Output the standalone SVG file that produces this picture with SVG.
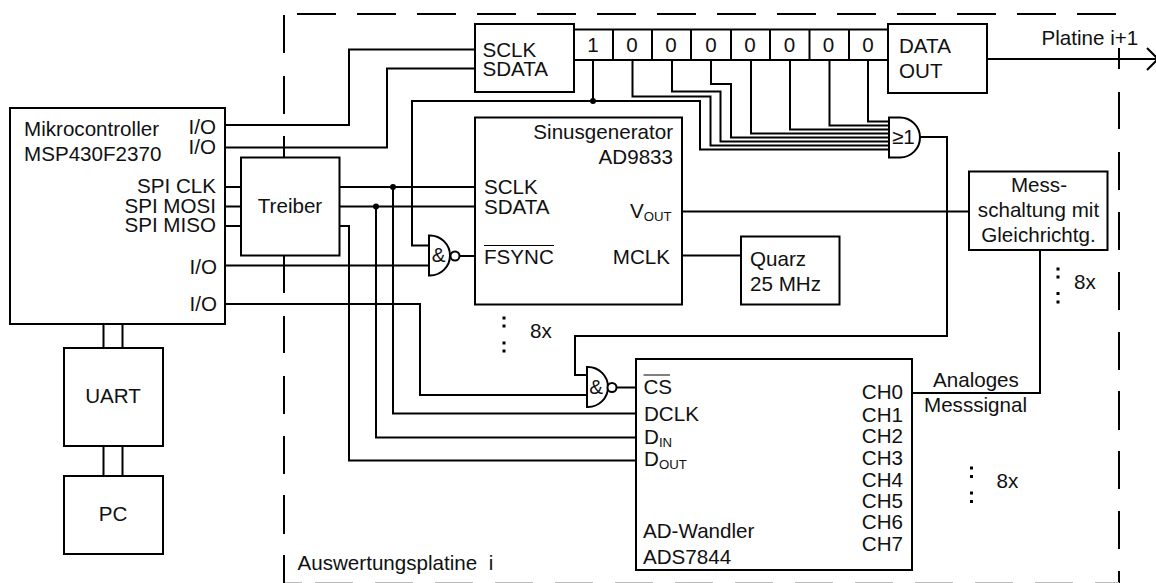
<svg xmlns="http://www.w3.org/2000/svg" width="1156" height="583" viewBox="0 0 1156 583">
<style>
text{font-family:"Liberation Sans",Arial,sans-serif;font-size:20.6px;fill:#111;white-space:pre}
.m{text-anchor:middle}.e{text-anchor:end}
.sub{font-size:13.2px}
.b{fill:#fff;stroke:#000;stroke-width:2}
.w{fill:none;stroke:#000;stroke-width:2}
.o{fill:none;stroke:#000;stroke-width:1}
.dash{fill:none;stroke:#000;stroke-width:2}
.dot{fill:#000;stroke:none}
</style>
<rect width="1156" height="583" fill="#fff"/>
<g id="board-frame">
<path class="dash" d="M297 14H336M357 14H396M417 14H456M477 14H516M537 14H576M597 14H636M657 14H696M717 14H756M777 14H816M837 14H876M897 14H936M957 14H996M1017 14H1056M1077 14H1116"/>
<path class="dash" d="M284 15V53M284 76V114M284 136V175M284 196V235M284 256V293M284 316V353M284 376V414M284 436V474M284 495V534M284 555V583"/>
<path class="dash" d="M1119 48V69M1119 92V129M1119 152V190M1119 212V250M1119 272V310M1119 332V370M1119 391V430M1119 451V489M1119 511V549M1119 571V583"/>
<path d="M285 582.500H302M315 582.500H353M375 582.500H413M435 582.500H473M495 582.500H533M555 582.500H593M615 582.500H653M675 582.500H713M735 582.500H773M795 582.500H833M855 582.500H893M915 582.500H953M975 582.500H1013M1035 582.500H1073M1095 582.500H1119" stroke="#bbb" stroke-width="1" fill="none"/>
</g>
<g id="connectors">
<path class="w" d="M225 125H349V49.500H475"/>
<path class="w" d="M225 147.500H387V68.500H475"/>
<path class="w" d="M225 187H241M225 206.500H241M225 226H241"/>
<path class="w" d="M339 187H475M339 206.500H475"/>
<path class="w" d="M393 187V413.500H636"/>
<path class="w" d="M376 206.500V437.500H636"/>
<path class="w" d="M339 226H349V460.500H636"/>
<path class="w" d="M225 265.500H429"/>
<path class="w" d="M225 304H420V395H587"/>
<path class="w" d="M593 60V101"/>
<path class="w" d="M429 245.500H412V101H700V149.500H889"/>
<path class="w" d="M632.500 60V96.500H710.500V145.500H889"/>
<path class="w" d="M672 60V91.500H720.500V141.500H889"/>
<path class="w" d="M711 60V84H731V137.500H889"/>
<path class="w" d="M751 60V133.500H889"/>
<path class="w" d="M790 60V129.500H889"/>
<path class="w" d="M829.500 60V125.500H889"/>
<path class="w" d="M868 60V121.500H889"/>
<path class="w" d="M920 137H947V336H575V375H587"/>
<path class="w" d="M460 256H475M617 387.500H636"/>
<path class="w" d="M682 211.500H969M682 255.500H741"/>
<path class="w" d="M1040 250V393H912"/>
<path class="w" d="M987 59H1156M1147 48L1158 59L1147 70"/>
<path class="w" d="M103.500 324V348M122.500 324V348M103.500 446V476M122.500 446V476"/>
<circle class="dot" cx="593" cy="101" r="3"/>
<circle class="dot" cx="393" cy="187" r="3"/>
<circle class="dot" cx="376" cy="206.500" r="3"/>
</g>
<g id="mcu"><rect class="b" x="10" y="108" width="215" height="216"/>
<text x="24" y="135.500">Mikrocontroller</text><text x="24" y="161">MSP430F2370</text>
<text class="e" x="216" y="133.500">I/O</text><text class="e" x="216" y="153.500">I/O</text>
<text class="e" x="216" y="192.500">SPI CLK</text><text class="e" x="216" y="212.500">SPI MOSI</text><text class="e" x="216" y="232">SPI MISO</text>
<text class="e" x="217" y="273.500">I/O</text><text class="e" x="217" y="310.500">I/O</text></g>
<g id="uart"><rect class="b" x="64" y="348" width="99" height="98"/><text class="m" x="113" y="402.500">UART</text></g>
<g id="pc"><rect class="b" x="64" y="476" width="99" height="78"/><text class="m" x="113" y="521">PC</text></g>
<g id="treiber"><rect class="b" x="241" y="157.500" width="98.500" height="98"/><text class="m" x="290" y="212.500">Treiber</text></g>
<g id="shift-if"><rect class="b" x="475" y="24" width="99" height="68"/><text x="482.500" y="56.500">SCLK</text><text x="482.500" y="76">SDATA</text></g>
<g id="shift-register"><rect class="b" x="574" y="29.500" width="314" height="30.500"/>
<path class="w" d="M613 29.500V60M652 29.500V60M691 29.500V60M731 29.500V60M770 29.500V60M809.500 29.500V60M849 29.500V60"/>
<text class="m" x="593" y="51.500">1</text><text class="m" x="632" y="51.500">0</text><text class="m" x="671" y="51.500">0</text><text class="m" x="711" y="51.500">0</text><text class="m" x="750" y="51.500">0</text><text class="m" x="789.500" y="51.500">0</text><text class="m" x="828.500" y="51.500">0</text><text class="m" x="868" y="51.500">0</text></g>
<g id="data-out"><rect class="b" x="888" y="24" width="99" height="69"/><text x="899" y="53">DATA</text><text x="899" y="77.500">OUT</text></g>
<g id="platine-label"><text x="1041.500" y="45">Platine i+1</text></g>
<g id="or-gate"><path class="b" d="M889 117.500H900A20 20 0 0 1 900 157.500H889Z"/><text x="892" y="143.500">≥1</text></g>
<g id="sinus"><rect class="b" x="475" y="117.500" width="207" height="187"/>
<text class="e" x="673" y="138.500">Sinusgenerator</text><text class="e" x="673" y="163.500">AD9833</text>
<text x="484" y="193.500">SCLK</text><text x="484" y="214">SDATA</text><text x="484" y="264">FSYNC</text>
<path class="o" d="M484 245.500H554"/>
<text x="630" y="217.500">V<tspan class="sub" dy="3">OUT</tspan></text>
<text class="e" x="670" y="264">MCLK</text></g>
<g id="nand-fsync"><path class="b" d="M429 235.500H430A20 20 0 0 1 430 275.500H429Z"/><circle class="b" cx="455" cy="256" r="4.500"/><text class="m" x="438.500" y="262">&amp;</text></g>
<g id="quarz"><rect class="b" x="741" y="236.500" width="98.500" height="68"/><text x="750" y="266">Quarz</text><text x="750" y="290.500">25 MHz</text></g>
<g id="mess"><rect class="b" x="969" y="171.500" width="138.500" height="78.500"/>
<text class="m" x="1039" y="192">Mess-</text><text class="m" x="1038.500" y="217">schaltung mit</text><text class="m" x="1038.500" y="241.500">Gleichrichtg.</text></g>
<g id="mess-repeat"><rect class="dot" x="1056.500" y="267.500" width="3" height="3"/><rect class="dot" x="1056.500" y="275.500" width="3" height="3"/><rect class="dot" x="1056.500" y="292" width="3" height="3"/><rect class="dot" x="1056.500" y="300.500" width="3" height="3"/><text x="1074" y="289">8x</text></g>
<g id="sinus-repeat"><rect class="dot" x="502.500" y="316.500" width="3" height="3"/><rect class="dot" x="502.500" y="324.500" width="3" height="3"/><rect class="dot" x="502.500" y="341.500" width="3" height="3"/><rect class="dot" x="502.500" y="349.500" width="3" height="3"/><text x="530" y="337.500">8x</text></g>
<g id="nand-cs"><path class="b" d="M587 367H588A20 20 0 0 1 588 407H587Z"/><circle class="b" cx="612" cy="387.500" r="4.500"/><text class="m" x="596" y="394">&amp;</text></g>
<g id="adc"><rect class="b" x="636" y="359" width="276" height="211"/>
<text x="643.500" y="393.500">CS</text><path class="o" d="M643.500 375H670"/>
<text x="644" y="420.500">DCLK</text>
<text x="644" y="444">D<tspan class="sub" dy="3">IN</tspan></text>
<text x="644" y="466">D<tspan class="sub" dy="3">OUT</tspan></text>
<text x="643" y="538">AD-Wandler</text><text x="643" y="564">ADS7844</text>
<text class="e" x="903" y="399">CH0</text><text class="e" x="903" y="421.500">CH1</text><text class="e" x="903" y="442.500">CH2</text><text class="e" x="903" y="464.500">CH3</text><text class="e" x="903" y="486.500">CH4</text><text class="e" x="903" y="507.500">CH5</text><text class="e" x="903" y="528.500">CH6</text><text class="e" x="903" y="551">CH7</text></g>
<g id="signal-label"><text x="933" y="386.500">Analoges</text><text x="924" y="411.500">Messsignal</text></g>
<g id="adc-repeat"><rect class="dot" x="970" y="466.500" width="3" height="3"/><rect class="dot" x="970" y="475" width="3" height="3"/><rect class="dot" x="970" y="491.500" width="3" height="3"/><rect class="dot" x="970" y="500" width="3" height="3"/><text x="996.500" y="487.500">8x</text></g>
<g id="board-label"><text x="297.500" y="569.500">Auswertungsplatine  i</text></g>
</svg>
